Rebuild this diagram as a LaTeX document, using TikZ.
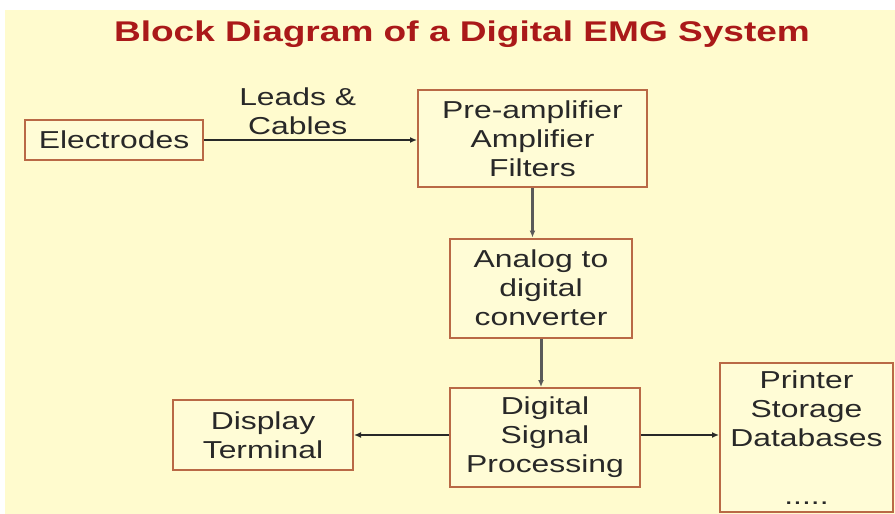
\documentclass[tikz,border=0pt]{standalone}
\usepackage{fontspec}
\setmainfont{Liberation Sans}[FakeStretch=1.3]
\usetikzlibrary{arrows.meta, positioning}

\definecolor{slidebg}{RGB}{255,251,206}
\definecolor{boxfill}{RGB}{255,252,214}
\definecolor{boxedge}{RGB}{185,105,70}
\definecolor{titlered}{RGB}{170,25,25}
\definecolor{inkgray}{RGB}{40,40,40}
\definecolor{arrowgray}{RGB}{90,90,90}

\begin{document}
\begin{tikzpicture}[
    x=1pt, y=-1pt,
    >={Latex[length=7pt, width=6pt]},
    every node/.style={align=center, text=inkgray, font=\fontsize{24.5}{29}\selectfont},
    box/.style={rectangle, draw=boxedge, fill=boxfill, line width=2pt, inner sep=0pt},
    hlink/.style={->, draw=inkgray, line width=1.5pt},
    vlink/.style={->, draw=arrowgray, line width=3pt}
]

% ----------------------
% Slide background
% ----------------------
\useasboundingbox (0,0) rectangle (895,514);
\fill[white] (0,0) rectangle (895,514);
\fill[slidebg] (5,10) rectangle (895,514);

% Title
\node[anchor=base, text=titlered, font=\fontsize{28.5}{32}\selectfont\bfseries] (title) at (462,41) {Block Diagram of a Digital EMG System};

% ----------------------
% Nodes
% ----------------------

% Electrodes
\node[box, minimum width=178pt, minimum height=40pt] (elec) at (114,140) {Electrodes};

% Pre-amplifier stage
\node[box, minimum width=229pt, minimum height=97pt] (preamp) at (532.5,138.5) {Pre-amplifier\\Amplifier\\Filters};

% A/D converter
\node[box, minimum width=182pt, minimum height=99pt] (adc) at (541,288) {Analog to\\digital\\converter};

% DSP
\node[box, minimum width=190pt, minimum height=99pt] (dsp) at (545,437.5) {Digital\\Signal\\Processing};

% Display terminal
\node[box, minimum width=180pt, minimum height=70pt] (disp) at (263,435) {Display\\Terminal};

% Printer / storage (runs off the slide edge)
\node[box, minimum width=173pt, minimum height=149pt] (store) at (806.5,437.5) {Printer\\Storage\\Databases\\[29pt].....};

% ----------------------
% Arrows
% ----------------------

% Electrodes to pre-amplifier
\draw[hlink] (elec) -- node[pos=0.44, above=5pt, inner sep=0pt] (leads) {Leads \&\\Cables} (elec -| preamp.west);

% Down the chain
\draw[vlink] (preamp) -- (preamp |- adc.north);
\draw[vlink] (adc) -- (adc |- dsp.north);

% DSP outputs
\draw[hlink] (dsp.west |- disp.east) -- (disp.east);
\draw[hlink] (dsp.east |- disp.east) -- (store.west |- disp.east);

\end{tikzpicture}
\end{document}
